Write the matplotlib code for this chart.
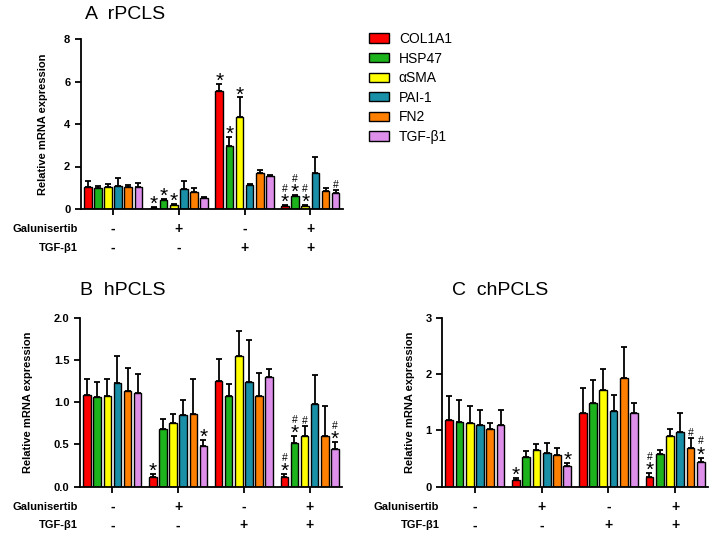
import numpy as np
import matplotlib
matplotlib.use("Agg")
import matplotlib.pyplot as plt
from matplotlib.patches import Patch
from matplotlib.transforms import blended_transform_factory

plt.rcParams['font.family'] = ['Liberation Sans', 'DejaVu Sans']

genes = ['COL1A1', 'HSP47', 'αSMA', 'PAI-1', 'FN2', 'TGF-β1']
colors = ['#FF0000', '#1DB31D', '#FFFF00', '#1A8FA8', '#FF8000', '#DD8FEA']
galunisertib = ['-', '+', '-', '+']
tgfb1 = ['-', '-', '+', '+']

# rows = treatment groups, columns = genes
a_mean = [[1.05, 1.00, 1.02, 1.10, 1.02, 1.04],
          [0.07, 0.42, 0.19, 0.96, 0.79, 0.52],
          [5.53, 2.97, 4.35, 1.12, 1.71, 1.54],
          [0.14, 0.63, 0.16, 1.71, 0.85, 0.74]]
a_err = [[0.27, 0.10, 0.16, 0.38, 0.10, 0.19],
         [0.02, 0.05, 0.05, 0.36, 0.21, 0.06],
         [0.37, 0.40, 0.90, 0.04, 0.13, 0.08],
         [0.03, 0.03, 0.03, 0.72, 0.12, 0.15]]
a_marks = [['', '', '', '', '', ''],
           ['*', '*', '*', '', '', ''],
           ['*', '*', '*', '', '', ''],
           ['*#', '*#', '*#', '', '', '#']]

b_mean = [[1.085, 1.065, 1.077, 1.23, 1.136, 1.105],
          [0.118, 0.68, 0.75, 0.85, 0.856, 0.485],
          [1.25, 1.077, 1.546, 1.235, 1.077, 1.294],
          [0.11, 0.513, 0.60, 0.974, 0.60, 0.446]]
b_err = [[0.195, 0.17, 0.20, 0.32, 0.274, 0.225],
         [0.032, 0.12, 0.11, 0.18, 0.424, 0.065],
         [0.26, 0.138, 0.30, 0.50, 0.263, 0.096],
         [0.04, 0.087, 0.12, 0.346, 0.355, 0.079]]
b_marks = [['', '', '', '', '', ''],
           ['*', '', '', '', '', '*'],
           ['', '', '', '', '', ''],
           ['*#', '*#', '#', '', '', '*#']]

c_mean = [[1.18, 1.154, 1.124, 1.095, 1.024, 1.095],
          [0.118, 0.52, 0.65, 0.60, 0.56, 0.373],
          [1.31, 1.48, 1.716, 1.35, 1.935, 1.30],
          [0.178, 0.58, 0.905, 0.976, 0.68, 0.43]]
c_err = [[0.43, 0.386, 0.316, 0.265, 0.112, 0.265],
         [0.03, 0.12, 0.107, 0.18, 0.12, 0.053],
         [0.447, 0.41, 0.374, 0.28, 0.55, 0.18],
         [0.059, 0.08, 0.113, 0.334, 0.178, 0.085]]
c_marks = [['', '', '', '', '', ''],
           ['*', '', '', '', '', '*'],
           ['', '', '', '', '', ''],
           ['*#', '', '', '', '#', '*#']]

W, H = 709, 534
fig = plt.figure(figsize=(W / 100, H / 100), dpi=100)


def yticks_labels(ticks):
    if any(t != int(t) for t in ticks):
        return ['%.1f' % t for t in ticks]
    return ['%d' % t for t in ticks]


def panel(rect, title, title_xy, mean, err, marks, ymax, yticks, ylab_x):
    ax = fig.add_axes(rect)
    mean = np.array(mean)
    err = np.array(err)
    centers = np.arange(4) * 6.5
    for i in range(6):
        x = centers + (i - 2.5)
        ax.bar(x, mean[:, i], width=0.75, color=colors[i], edgecolor='black',
               linewidth=1.0, zorder=2)
        ax.errorbar(x, mean[:, i], yerr=[np.zeros(4), err[:, i]], fmt='none',
                    ecolor='black', elinewidth=1.3, capsize=2.2, capthick=1.3, zorder=1)
        # significance marks stacked above the error bar
        for g in range(4):
            top = mean[g, i] + err[g, i]
            off = 1.5
            for m in marks[g][i]:
                if m == '*':
                    ax.annotate('*', (x[g], top), xytext=(0, off - 3.6),
                                textcoords='offset points', ha='center',
                                va='baseline', fontsize=15, annotation_clip=False)
                    off += 8.0
                else:
                    ax.annotate('#', (x[g], top), xytext=(0, off),
                                textcoords='offset points', ha='center',
                                va='baseline', fontsize=7.5, annotation_clip=False)
                    off += 7
    ax.set_xlim(-3.2, centers[-1] + 3.2)
    ax.set_ylim(0, ymax)
    ax.set_xticks(centers)
    ax.set_xticklabels([])
    ax.set_yticks(yticks)
    ax.set_yticklabels(yticks_labels(yticks), fontweight='bold', fontsize=8)
    for s in ['top', 'right']:
        ax.spines[s].set_visible(False)
    for s in ['left', 'bottom']:
        ax.spines[s].set_linewidth(1.3)
    ax.tick_params(width=1.3, length=4)
    ax.set_ylabel('Relative mRNA expression', fontweight='bold', fontsize=8)
    ax.yaxis.set_label_coords(ylab_x, 0.5)

    tr = blended_transform_factory(ax.transData, ax.transAxes)
    for g in range(4):
        ax.text(centers[g], -0.118, galunisertib[g], transform=tr, ha='center',
                va='center', fontweight='bold', fontsize=10)
        ax.text(centers[g], -0.228, tgfb1[g], transform=tr, ha='center',
                va='center', fontweight='bold', fontsize=10)
    ax.text(-0.01, -0.118, 'Galunisertib', transform=ax.transAxes, ha='right',
            va='center', fontweight='bold', fontsize=8)
    ax.text(-0.01, -0.228, 'TGF-β1', transform=ax.transAxes, ha='right',
            va='center', fontweight='bold', fontsize=8)
    fig.text(title_xy[0] / W, 1 - title_xy[1] / H, title, fontsize=14,
             va='baseline', ha='left')
    return ax


panel([80.7 / W, 1 - 209 / H, 262 / W, 170 / H], 'A  rPCLS', (85, 19),
      a_mean, a_err, a_marks, 8, [0, 2, 4, 6, 8], -0.125)
panel([80 / W, 1 - 486.7 / H, 262 / W, 169 / H], 'B  hPCLS', (80, 295),
      b_mean, b_err, b_marks, 2.0, [0.0, 0.5, 1.0, 1.5, 2.0], -0.18)
panel([442 / W, 1 - 486.7 / H, 266 / W, 169 / H], 'C  chPCLS', (452, 295),
      c_mean, c_err, c_marks, 3, [0, 1, 2, 3], -0.10)

handles = [Patch(facecolor=c, edgecolor='black', linewidth=1.0) for c in colors]
fig.legend(handles, genes, loc='upper left', bbox_to_anchor=(369 / W, 1 - 32 / H),
           frameon=False, fontsize=10, handlelength=1.45, handleheight=0.65,
           handletextpad=0.7, labelspacing=0.4, borderpad=0, borderaxespad=0)

fig.savefig('out.png', dpi=100)
